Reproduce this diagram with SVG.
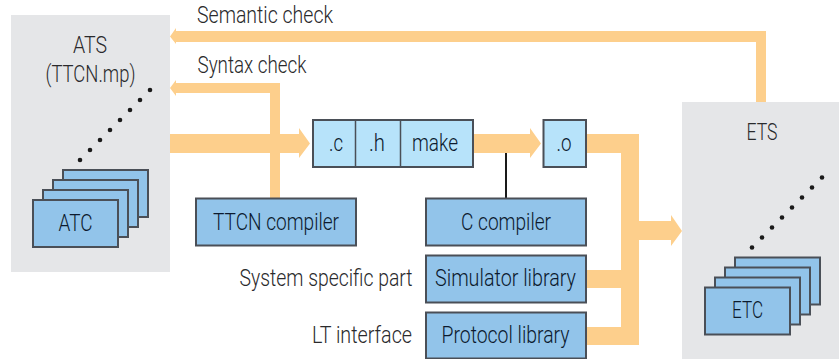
<svg xmlns="http://www.w3.org/2000/svg" width="839" height="359" viewBox="0 0 839 359">
<style>
text{font-family:"Roboto","Liberation Sans",Arial,sans-serif;font-size:23.500px;font-weight:300;text-anchor:middle;fill:#2a2a2c}
.n{fill:#0c1a2e}
.panel{fill:#e5e6e8}
.box{fill:#92c4ea;stroke:#4a4f57;stroke-width:2}
.lite{fill:#b7e3fa;stroke:#4a4f57;stroke-width:2}
.flow{fill:#fdcf8c}
.dot{fill:#1a1a1a}
</style>
<g id="panels">
<g id="ATS"><rect class="panel" x="11" y="15" width="159" height="257"/>
<text x="90" y="53" textLength="34" lengthAdjust="spacingAndGlyphs">ATS</text>
<text x="90.500" y="82" textLength="90" lengthAdjust="spacingAndGlyphs">(TTCN.mp)</text>
<g class="dot"><circle cx="150" cy="90" r="2.3"/><circle cx="140" cy="100" r="2.3"/><circle cx="130" cy="110" r="2.3"/><circle cx="120" cy="120" r="2.3"/><circle cx="110" cy="130" r="2.3"/><circle cx="100" cy="140" r="2.3"/><circle cx="90" cy="150" r="2.3"/><circle cx="80" cy="160" r="2.3"/></g></g>
<g id="ETS"><rect class="panel" x="682" y="102" width="157" height="257"/>
<text x="762" y="140" textLength="31" lengthAdjust="spacingAndGlyphs">ETS</text>
<g class="dot"><circle cx="822" cy="177.500" r="2.3"/><circle cx="812" cy="187.500" r="2.3"/><circle cx="802" cy="197.500" r="2.3"/><circle cx="792" cy="207.500" r="2.3"/><circle cx="782" cy="217.500" r="2.3"/><circle cx="772" cy="227.500" r="2.3"/><circle cx="762" cy="237.500" r="2.3"/><circle cx="752" cy="247.500" r="2.3"/></g></g>
</g>
<g id="connectors">
<path class="flow" d="M766 102V31H176V28L170 36.500L176 44V42H756V102Z"/>
<path class="flow" d="M280 198V83H176V80L170 88L176 96V93H270V198Z"/>
<path class="flow" d="M170 134H299V128L310 143.500L299 158V153H170Z"/>
<path class="flow" d="M473 134H530V128L541 143.500L530 158V153H473Z"/>
<path class="flow" d="M586 134H639V221H671V215L682 231L671 246V240H639V345H586V327H621V288H586V270H621V153H586Z"/>
<path d="M506 153V198" stroke="#1a1a1a" stroke-width="2" fill="none"/>
</g>
<g id="ATC">
<rect class="box" x="63" y="170" width="85" height="47"/><rect class="box" x="53" y="180" width="85" height="47"/><rect class="box" x="43" y="190" width="85" height="47"/><rect class="box" x="33" y="200" width="85" height="47"/>
<text class="n" x="75.500" y="231" textLength="34" lengthAdjust="spacingAndGlyphs">ATC</text>
</g>
<g id="ETC">
<rect class="box" x="735" y="257.500" width="85" height="47"/><rect class="box" x="725" y="267.500" width="85" height="47"/><rect class="box" x="715" y="277.500" width="85" height="47"/><rect class="box" x="705" y="287.500" width="85" height="47"/>
<text class="n" x="747.500" y="318" textLength="31" lengthAdjust="spacingAndGlyphs">ETC</text>
</g>
<g id="sources">
<rect class="lite" x="313" y="120" width="160" height="47"/>
<path d="M355.500 120V167M400.500 120V167" stroke="#4a4f57" stroke-width="1.500" fill="none"/>
<text class="n" x="336" y="151" textLength="14" lengthAdjust="spacingAndGlyphs">.c</text>
<text class="n" x="377" y="151" textLength="16" lengthAdjust="spacingAndGlyphs">.h</text>
<text class="n" x="435" y="151" textLength="46" lengthAdjust="spacingAndGlyphs">make</text>
</g>
<g id="object"><rect class="lite" x="543.500" y="120" width="42.500" height="47"/><text class="n" x="564" y="151" textLength="15" lengthAdjust="spacingAndGlyphs">.o</text></g>
<g id="ttcn-compiler"><rect class="box" x="196" y="198.500" width="160" height="47"/><text class="n" x="276" y="229.500" textLength="126" lengthAdjust="spacingAndGlyphs">TTCN compiler</text></g>
<g id="c-compiler"><rect class="box" x="426" y="198.500" width="160" height="47"/><text class="n" x="506" y="229.500" textLength="90" lengthAdjust="spacingAndGlyphs">C compiler</text></g>
<g id="simulator-library"><rect class="box" x="426" y="255.500" width="160" height="47"/><text class="n" x="505.500" y="286" textLength="141" lengthAdjust="spacingAndGlyphs">Simulator library</text></g>
<g id="protocol-library"><rect class="box" x="426" y="312.500" width="160" height="46"/><text class="n" x="505.500" y="343" textLength="128" lengthAdjust="spacingAndGlyphs">Protocol library</text></g>
<g id="labels">
<text x="265" y="22.500" textLength="136" lengthAdjust="spacingAndGlyphs">Semantic check</text>
<text x="252" y="72.500" textLength="109" lengthAdjust="spacingAndGlyphs">Syntax check</text>
<text x="326" y="285.500" textLength="173" lengthAdjust="spacingAndGlyphs">System specific part</text>
<text x="362" y="342.500" textLength="100" lengthAdjust="spacingAndGlyphs">LT interface</text>
</g>
</svg>
